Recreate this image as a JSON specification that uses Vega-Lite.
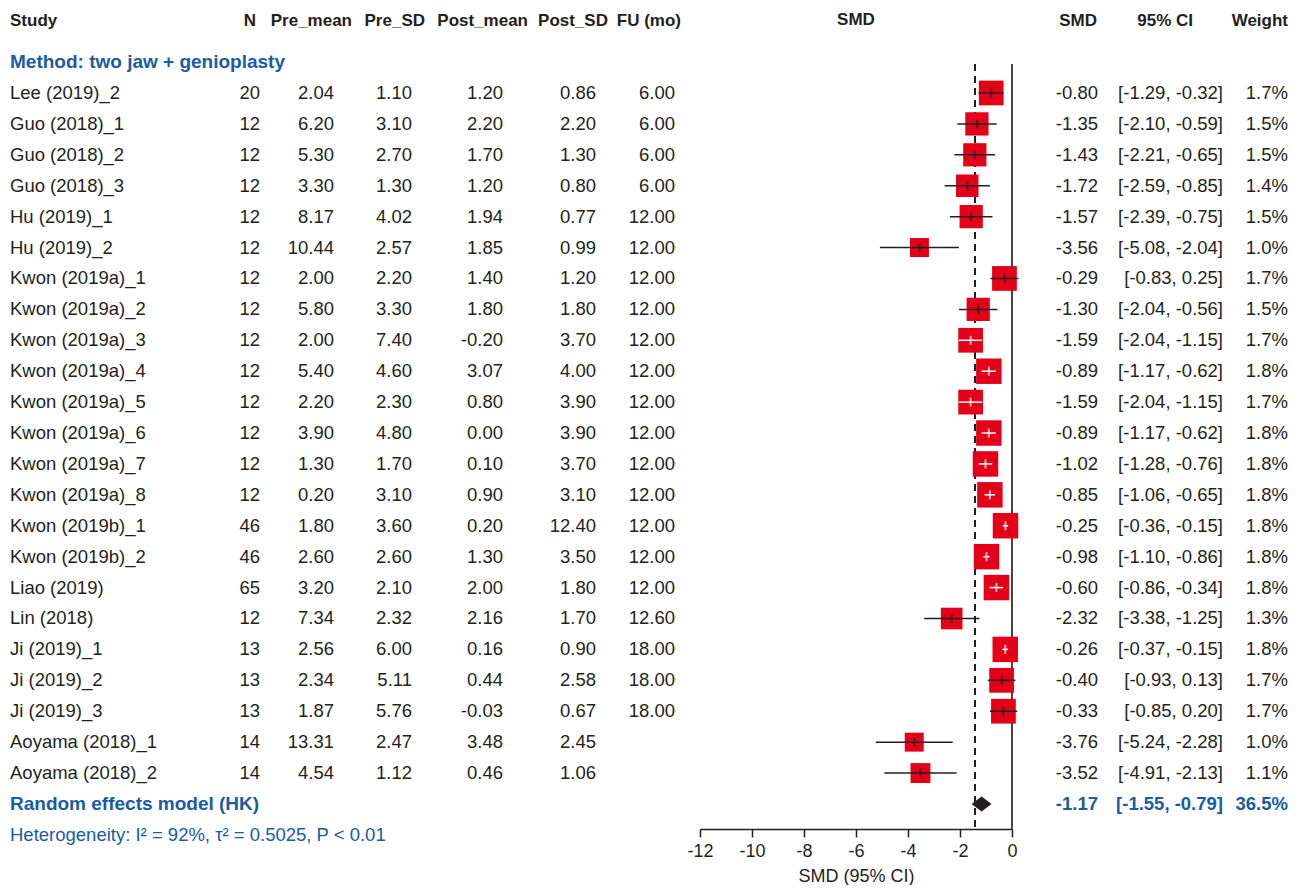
{
  "$schema": "https://vega.github.io/schema/vega-lite/v6.json",
  "padding": {"left": 10, "right": 12, "top": 11, "bottom": 0},
  "spacing": 25,
  "bounds": "flush",
  "config": {
    "view": {"stroke": null},
    "font": "Liberation Sans",
    "locale": {"number": {"decimal": ".", "thousands": ",", "grouping": [3], "currency": ["$", ""], "minus": "-"}},
    "title": {"fontSize": 17, "fontWeight": "bold", "color": "#231f20", "offset": 34},
    "text": {"font": "Liberation Sans"}
  },
  "datasets": {
    "rows": [
      {"row": 1, "kind": "method", "study": "Method: two jaw + genioplasty"},
      {"row": 2, "kind": "study", "study": "Lee (2019)_2", "n": 20, "pre_m": 2.04, "pre_sd": 1.10, "post_m": 1.20, "post_sd": 0.86, "fu": 6.00, "smd": -0.80, "lower": -1.29, "upper": -0.32, "ci": "[-1.29, -0.32]", "w": 0.017},
      {"row": 3, "kind": "study", "study": "Guo (2018)_1", "n": 12, "pre_m": 6.20, "pre_sd": 3.10, "post_m": 2.20, "post_sd": 2.20, "fu": 6.00, "smd": -1.35, "lower": -2.10, "upper": -0.59, "ci": "[-2.10, -0.59]", "w": 0.015},
      {"row": 4, "kind": "study", "study": "Guo (2018)_2", "n": 12, "pre_m": 5.30, "pre_sd": 2.70, "post_m": 1.70, "post_sd": 1.30, "fu": 6.00, "smd": -1.43, "lower": -2.21, "upper": -0.65, "ci": "[-2.21, -0.65]", "w": 0.015},
      {"row": 5, "kind": "study", "study": "Guo (2018)_3", "n": 12, "pre_m": 3.30, "pre_sd": 1.30, "post_m": 1.20, "post_sd": 0.80, "fu": 6.00, "smd": -1.72, "lower": -2.59, "upper": -0.85, "ci": "[-2.59, -0.85]", "w": 0.014},
      {"row": 6, "kind": "study", "study": "Hu (2019)_1", "n": 12, "pre_m": 8.17, "pre_sd": 4.02, "post_m": 1.94, "post_sd": 0.77, "fu": 12.00, "smd": -1.57, "lower": -2.39, "upper": -0.75, "ci": "[-2.39, -0.75]", "w": 0.015},
      {"row": 7, "kind": "study", "study": "Hu (2019)_2", "n": 12, "pre_m": 10.44, "pre_sd": 2.57, "post_m": 1.85, "post_sd": 0.99, "fu": 12.00, "smd": -3.56, "lower": -5.08, "upper": -2.04, "ci": "[-5.08, -2.04]", "w": 0.010},
      {"row": 8, "kind": "study", "study": "Kwon (2019a)_1", "n": 12, "pre_m": 2.00, "pre_sd": 2.20, "post_m": 1.40, "post_sd": 1.20, "fu": 12.00, "smd": -0.29, "lower": -0.83, "upper": 0.25, "ci": "[-0.83, 0.25]", "w": 0.017},
      {"row": 9, "kind": "study", "study": "Kwon (2019a)_2", "n": 12, "pre_m": 5.80, "pre_sd": 3.30, "post_m": 1.80, "post_sd": 1.80, "fu": 12.00, "smd": -1.30, "lower": -2.04, "upper": -0.56, "ci": "[-2.04, -0.56]", "w": 0.015},
      {"row": 10, "kind": "study", "study": "Kwon (2019a)_3", "n": 12, "pre_m": 2.00, "pre_sd": 7.40, "post_m": -0.20, "post_sd": 3.70, "fu": 12.00, "smd": -1.59, "lower": -2.04, "upper": -1.15, "ci": "[-2.04, -1.15]", "w": 0.017},
      {"row": 11, "kind": "study", "study": "Kwon (2019a)_4", "n": 12, "pre_m": 5.40, "pre_sd": 4.60, "post_m": 3.07, "post_sd": 4.00, "fu": 12.00, "smd": -0.89, "lower": -1.17, "upper": -0.62, "ci": "[-1.17, -0.62]", "w": 0.018},
      {"row": 12, "kind": "study", "study": "Kwon (2019a)_5", "n": 12, "pre_m": 2.20, "pre_sd": 2.30, "post_m": 0.80, "post_sd": 3.90, "fu": 12.00, "smd": -1.59, "lower": -2.04, "upper": -1.15, "ci": "[-2.04, -1.15]", "w": 0.017},
      {"row": 13, "kind": "study", "study": "Kwon (2019a)_6", "n": 12, "pre_m": 3.90, "pre_sd": 4.80, "post_m": 0.00, "post_sd": 3.90, "fu": 12.00, "smd": -0.89, "lower": -1.17, "upper": -0.62, "ci": "[-1.17, -0.62]", "w": 0.018},
      {"row": 14, "kind": "study", "study": "Kwon (2019a)_7", "n": 12, "pre_m": 1.30, "pre_sd": 1.70, "post_m": 0.10, "post_sd": 3.70, "fu": 12.00, "smd": -1.02, "lower": -1.28, "upper": -0.76, "ci": "[-1.28, -0.76]", "w": 0.018},
      {"row": 15, "kind": "study", "study": "Kwon (2019a)_8", "n": 12, "pre_m": 0.20, "pre_sd": 3.10, "post_m": 0.90, "post_sd": 3.10, "fu": 12.00, "smd": -0.85, "lower": -1.06, "upper": -0.65, "ci": "[-1.06, -0.65]", "w": 0.018},
      {"row": 16, "kind": "study", "study": "Kwon (2019b)_1", "n": 46, "pre_m": 1.80, "pre_sd": 3.60, "post_m": 0.20, "post_sd": 12.40, "fu": 12.00, "smd": -0.25, "lower": -0.36, "upper": -0.15, "ci": "[-0.36, -0.15]", "w": 0.018},
      {"row": 17, "kind": "study", "study": "Kwon (2019b)_2", "n": 46, "pre_m": 2.60, "pre_sd": 2.60, "post_m": 1.30, "post_sd": 3.50, "fu": 12.00, "smd": -0.98, "lower": -1.10, "upper": -0.86, "ci": "[-1.10, -0.86]", "w": 0.018},
      {"row": 18, "kind": "study", "study": "Liao (2019)", "n": 65, "pre_m": 3.20, "pre_sd": 2.10, "post_m": 2.00, "post_sd": 1.80, "fu": 12.00, "smd": -0.60, "lower": -0.86, "upper": -0.34, "ci": "[-0.86, -0.34]", "w": 0.018},
      {"row": 19, "kind": "study", "study": "Lin (2018)", "n": 12, "pre_m": 7.34, "pre_sd": 2.32, "post_m": 2.16, "post_sd": 1.70, "fu": 12.60, "smd": -2.32, "lower": -3.38, "upper": -1.25, "ci": "[-3.38, -1.25]", "w": 0.013},
      {"row": 20, "kind": "study", "study": "Ji (2019)_1", "n": 13, "pre_m": 2.56, "pre_sd": 6.00, "post_m": 0.16, "post_sd": 0.90, "fu": 18.00, "smd": -0.26, "lower": -0.37, "upper": -0.15, "ci": "[-0.37, -0.15]", "w": 0.018},
      {"row": 21, "kind": "study", "study": "Ji (2019)_2", "n": 13, "pre_m": 2.34, "pre_sd": 5.11, "post_m": 0.44, "post_sd": 2.58, "fu": 18.00, "smd": -0.40, "lower": -0.93, "upper": 0.13, "ci": "[-0.93, 0.13]", "w": 0.017},
      {"row": 22, "kind": "study", "study": "Ji (2019)_3", "n": 13, "pre_m": 1.87, "pre_sd": 5.76, "post_m": -0.03, "post_sd": 0.67, "fu": 18.00, "smd": -0.33, "lower": -0.85, "upper": 0.20, "ci": "[-0.85, 0.20]", "w": 0.017},
      {"row": 23, "kind": "study", "study": "Aoyama (2018)_1", "n": 14, "pre_m": 13.31, "pre_sd": 2.47, "post_m": 3.48, "post_sd": 2.45, "smd": -3.76, "lower": -5.24, "upper": -2.28, "ci": "[-5.24, -2.28]", "w": 0.010},
      {"row": 24, "kind": "study", "study": "Aoyama (2018)_2", "n": 14, "pre_m": 4.54, "pre_sd": 1.12, "post_m": 0.46, "post_sd": 1.06, "smd": -3.52, "lower": -4.91, "upper": -2.13, "ci": "[-4.91, -2.13]", "w": 0.011},
      {"row": 25, "kind": "summary", "study": "Random effects model (HK)", "smd": -1.17, "lower": -1.55, "upper": -0.79, "ci": "[-1.55, -0.79]", "w": 0.365},
      {"row": 26, "kind": "het", "study": "Heterogeneity: I² = 92%, τ² = 0.5025, P < 0.01"}
    ]
  },
  "data": {"name": "rows"},
  "hconcat": [
    {
      "width": 190, "height": 765,
      "title": {"text": "Study", "anchor": "start", "offset": 23},
      "layer": [
        {
          "transform": [{"filter": "datum.kind == 'study'"}],
          "mark": {"type": "text", "align": "left", "baseline": "middle", "fontSize": 18.5, "color": "#231f20"},
          "encoding": {"x": {"value": 0}, "y": {"field": "row", "type": "quantitative", "scale": {"domain": [1.062, 25.81], "reverse": true, "nice": false, "zero": false}, "axis": null}, "text": {"field": "study", "type": "nominal"}}
        },
        {
          "transform": [{"filter": "datum.kind == 'method' || datum.kind == 'summary'"}],
          "mark": {"type": "text", "align": "left", "baseline": "middle", "fontSize": 19, "fontWeight": "bold", "color": "#1a5aa6"},
          "encoding": {"x": {"value": 0}, "y": {"field": "row", "type": "quantitative", "scale": {"domain": [1.062, 25.81], "reverse": true, "nice": false, "zero": false}, "axis": null}, "text": {"field": "study", "type": "nominal"}}
        },
        {
          "transform": [{"filter": "datum.kind == 'het'"}],
          "mark": {"type": "text", "align": "left", "baseline": "middle", "fontSize": 18.5, "color": "#1a5aa6"},
          "encoding": {"x": {"value": 0}, "y": {"field": "row", "type": "quantitative", "scale": {"domain": [1.062, 25.81], "reverse": true, "nice": false, "zero": false}, "axis": null}, "text": {"field": "study", "type": "nominal"}}
        }
      ]
    },
    {
      "width": 35, "height": 765,
      "title": {"text": "N", "anchor": "end", "dx": -4},
      "transform": [{"filter": "isValid(datum.n)"}],
      "mark": {"type": "text", "align": "right", "baseline": "middle", "fontSize": 18.5, "color": "#231f20"},
      "encoding": {"x": {"value": "width"}, "y": {"field": "row", "type": "quantitative", "scale": {"domain": [1.062, 25.81], "reverse": true, "nice": false, "zero": false}, "axis": null}, "text": {"field": "n", "type": "quantitative", "format": "d"}}
    },
    {
      "width": 49, "height": 765,
      "title": {"text": "Pre_mean", "anchor": "end", "dx": 18},
      "transform": [{"filter": "isValid(datum.pre_m)"}],
      "mark": {"type": "text", "align": "right", "baseline": "middle", "fontSize": 18.5, "color": "#231f20"},
      "encoding": {"x": {"value": "width"}, "y": {"field": "row", "type": "quantitative", "scale": {"domain": [1.062, 25.81], "reverse": true, "nice": false, "zero": false}, "axis": null}, "text": {"field": "pre_m", "type": "quantitative", "format": ".2f"}}
    },
    {
      "width": 53, "height": 765,
      "title": {"text": "Pre_SD", "anchor": "end", "dx": 13},
      "transform": [{"filter": "isValid(datum.pre_sd)"}],
      "mark": {"type": "text", "align": "right", "baseline": "middle", "fontSize": 18.5, "color": "#231f20"},
      "encoding": {"x": {"value": "width"}, "y": {"field": "row", "type": "quantitative", "scale": {"domain": [1.062, 25.81], "reverse": true, "nice": false, "zero": false}, "axis": null}, "text": {"field": "pre_sd", "type": "quantitative", "format": ".2f"}}
    },
    {
      "width": 66, "height": 765,
      "title": {"text": "Post_mean", "anchor": "end", "dx": 25},
      "transform": [{"filter": "isValid(datum.post_m)"}],
      "mark": {"type": "text", "align": "right", "baseline": "middle", "fontSize": 18.5, "color": "#231f20"},
      "encoding": {"x": {"value": "width"}, "y": {"field": "row", "type": "quantitative", "scale": {"domain": [1.062, 25.81], "reverse": true, "nice": false, "zero": false}, "axis": null}, "text": {"field": "post_m", "type": "quantitative", "format": ".2f"}}
    },
    {
      "width": 68, "height": 765,
      "title": {"text": "Post_SD", "anchor": "end", "dx": 12},
      "transform": [{"filter": "isValid(datum.post_sd)"}],
      "mark": {"type": "text", "align": "right", "baseline": "middle", "fontSize": 18.5, "color": "#231f20"},
      "encoding": {"x": {"value": "width"}, "y": {"field": "row", "type": "quantitative", "scale": {"domain": [1.062, 25.81], "reverse": true, "nice": false, "zero": false}, "axis": null}, "text": {"field": "post_sd", "type": "quantitative", "format": ".2f"}}
    },
    {
      "width": 54, "height": 765,
      "title": {"text": "FU (mo)", "anchor": "end", "dx": 6},
      "transform": [{"filter": "isValid(datum.fu)"}],
      "mark": {"type": "text", "align": "right", "baseline": "middle", "fontSize": 18.5, "color": "#231f20"},
      "encoding": {"x": {"value": "width"}, "y": {"field": "row", "type": "quantitative", "scale": {"domain": [1.062, 25.81], "reverse": true, "nice": false, "zero": false}, "axis": null}, "text": {"field": "fu", "type": "quantitative", "format": ".2f"}}
    },
    {
      "width": 312, "height": 765,
      "title": {"text": "SMD", "anchor": "middle"},
      "layer": [
        {
          "mark": {"type": "rule", "strokeDash": [7, 5], "strokeWidth": 1.6, "color": "#231f20"},
          "encoding": {
            "x": {"datum": -1.42, "type": "quantitative",
              "scale": {"domain": [-12, 0], "nice": false, "zero": false},
              "axis": {"values": [-12, -10, -8, -6, -4, -2, 0], "title": "SMD (95% CI)", "grid": false, "tickSize": 8, "labelFontSize": 18, "titleFontSize": 18, "titleFontWeight": "normal", "labelColor": "#231f20", "titleColor": "#231f20", "domainColor": "#231f20", "tickColor": "#231f20", "domainWidth": 1.5, "tickWidth": 1.5, "labelPadding": 5, "titlePadding": 7, "labelFlush": false, "labelOverlap": false, "labelFont": "Liberation Sans", "titleFont": "Liberation Sans"}}
          }
        },
        {
          "mark": {"type": "rule", "strokeWidth": 2, "color": "#4a4444"},
          "encoding": {"x": {"datum": 0, "type": "quantitative"}}
        },
        {
          "transform": [{"filter": "datum.kind == 'study'"}],
          "mark": {"type": "point", "shape": "square", "filled": true, "opacity": 1, "color": "#e50019"},
          "encoding": {
            "x": {"field": "smd", "type": "quantitative"},
            "y": {"field": "row", "type": "quantitative", "scale": {"domain": [1.062, 25.81], "reverse": true, "nice": false, "zero": false}, "axis": null},
            "size": {"field": "w", "type": "quantitative", "scale": {"domain": [0, 0.02], "range": [0, 720]}, "legend": null}
          }
        },
        {
          "transform": [{"filter": "datum.kind == 'study'"}],
          "mark": {"type": "rule", "strokeWidth": 1.5},
          "encoding": {
            "x": {"field": "lower", "type": "quantitative"},
            "x2": {"field": "upper"},
            "y": {"field": "row", "type": "quantitative"},
            "color": {"condition": {"test": "datum.upper - datum.lower < 0.93", "value": "#ffffff"}, "value": "#231f20"}
          }
        },
        {
          "transform": [{"filter": "datum.kind == 'study'"}],
          "mark": {"type": "tick", "orient": "vertical", "size": 9, "thickness": 2},
          "encoding": {
            "x": {"field": "smd", "type": "quantitative"},
            "y": {"field": "row", "type": "quantitative"},
            "color": {"condition": {"test": "datum.upper - datum.lower < 0.93", "value": "#ffffff"}, "value": "#231f20"}
          }
        },
        {
          "transform": [{"filter": "datum.kind == 'summary'"}],
          "mark": {"type": "point", "shape": "M-1,0L0,-0.75L1,0L0,0.75Z", "filled": true, "opacity": 1, "size": 400, "color": "#231f20"},
          "encoding": {
            "x": {"field": "smd", "type": "quantitative"},
            "y": {"field": "row", "type": "quantitative"}
          }
        }
      ]
    },
    {
      "width": 61, "height": 765,
      "title": {"text": "SMD", "anchor": "end", "dx": -1},
      "layer": [
        {
          "transform": [{"filter": "datum.kind == 'study'"}],
          "mark": {"type": "text", "align": "right", "baseline": "middle", "fontSize": 18.5, "color": "#231f20"},
          "encoding": {"x": {"value": "width"}, "y": {"field": "row", "type": "quantitative", "scale": {"domain": [1.062, 25.81], "reverse": true, "nice": false, "zero": false}, "axis": null}, "text": {"field": "smd", "type": "quantitative", "format": ".2f"}}
        },
        {
          "transform": [{"filter": "datum.kind == 'summary'"}],
          "mark": {"type": "text", "align": "right", "baseline": "middle", "fontSize": 18.5, "fontWeight": "bold", "color": "#1a5aa6"},
          "encoding": {"x": {"value": "width"}, "y": {"field": "row", "type": "quantitative"}, "text": {"field": "smd", "type": "quantitative", "format": ".2f"}}
        }
      ]
    },
    {
      "width": 100, "height": 765,
      "title": {"text": "95% CI", "anchor": "end", "dx": -30},
      "layer": [
        {
          "transform": [{"filter": "datum.kind == 'study'"}],
          "mark": {"type": "text", "align": "right", "baseline": "middle", "fontSize": 18.5, "color": "#231f20"},
          "encoding": {"x": {"value": "width"}, "y": {"field": "row", "type": "quantitative", "scale": {"domain": [1.062, 25.81], "reverse": true, "nice": false, "zero": false}, "axis": null}, "text": {"field": "ci", "type": "nominal"}}
        },
        {
          "transform": [{"filter": "datum.kind == 'summary'"}],
          "mark": {"type": "text", "align": "right", "baseline": "middle", "fontSize": 18.5, "fontWeight": "bold", "color": "#1a5aa6"},
          "encoding": {"x": {"value": "width"}, "y": {"field": "row", "type": "quantitative"}, "text": {"field": "ci", "type": "nominal"}}
        }
      ]
    },
    {
      "width": 40, "height": 765,
      "title": {"text": "Weight", "anchor": "end"},
      "layer": [
        {
          "transform": [{"filter": "datum.kind == 'study'"}],
          "mark": {"type": "text", "align": "right", "baseline": "middle", "fontSize": 18.5, "color": "#231f20"},
          "encoding": {"x": {"value": "width"}, "y": {"field": "row", "type": "quantitative", "scale": {"domain": [1.062, 25.81], "reverse": true, "nice": false, "zero": false}, "axis": null}, "text": {"field": "w", "type": "quantitative", "format": ".1%"}}
        },
        {
          "transform": [{"filter": "datum.kind == 'summary'"}],
          "mark": {"type": "text", "align": "right", "baseline": "middle", "fontSize": 18.5, "fontWeight": "bold", "color": "#1a5aa6"},
          "encoding": {"x": {"value": "width"}, "y": {"field": "row", "type": "quantitative"}, "text": {"field": "w", "type": "quantitative", "format": ".1%"}}
        }
      ]
    }
  ]
}
